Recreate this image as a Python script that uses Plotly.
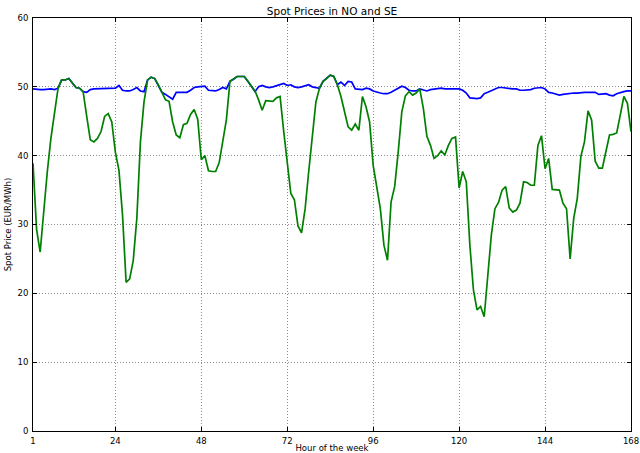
import plotly.graph_objects as go

# Hour of the week (1..168)
hours = list(range(1, 169))

# Hourly spot prices, EUR/MWh
price_no = [
    49.7, 49.6, 49.6, 49.6, 49.7, 49.7, 49.6, 49.8, 51.0, 51.0,
    51.2, 50.5, 49.9, 49.8, 49.3, 49.2, 49.6, 49.7, 49.7, 49.7,
    49.7, 49.8, 49.8, 49.8, 50.2, 49.5, 49.4, 49.4, 49.6, 49.9,
    49.4, 49.3, 51.0, 51.4, 51.2, 50.3, 49.2, 48.9, 48.6, 48.2,
    49.2, 49.2, 49.2, 49.2, 49.5, 49.9, 50.0, 50.0, 50.1, 49.5,
    49.4, 49.4, 49.6, 49.9, 49.7, 50.8, 51.1, 51.5, 51.5, 51.5,
    50.8, 50.0, 49.3, 50.0, 50.2, 50.0, 49.9, 50.0, 50.2, 50.4,
    50.5, 50.2, 50.3, 50.0, 49.9, 50.0, 50.1, 50.3, 50.0, 49.9,
    49.8, 50.8, 51.2, 51.7, 51.5, 50.3, 50.7, 50.2, 50.8, 50.7,
    49.7, 49.6, 49.6, 49.8, 49.7, 49.4, 49.2, 49.1, 49.0, 49.0,
    49.2, 49.5, 49.9, 50.1, 49.9, 49.5, 49.4, 49.4, 49.7, 49.5,
    49.4, 49.6, 49.7, 49.7, 49.8, 49.7, 49.7, 49.7, 49.8, 49.7,
    49.5, 49.1, 48.4, 48.3, 48.3, 48.4, 49.0, 49.2, 49.4, 49.7,
    49.9, 49.9, 49.8, 49.7, 49.7, 49.7, 49.5, 49.5, 49.5, 49.6,
    49.8, 49.9, 49.9, 49.7, 49.2, 49.1, 49.0, 48.8, 48.9, 49.0,
    49.0, 49.1, 49.1, 49.2, 49.2, 49.2, 49.2, 49.2, 48.9, 49.0,
    49.0, 48.8, 48.7, 49.0, 49.2, 49.3, 49.4, 49.4,
]

price_se = [
    38.9, 29.3, 26.0, 32.3, 37.7, 42.5, 46.4, 49.8, 51.0, 51.0,
    51.2, 50.5, 49.9, 49.8, 49.3, 45.7, 42.3, 42.0, 42.5, 43.5,
    45.7, 46.1, 44.9, 40.5, 37.9, 31.4, 21.6, 22.1, 24.8, 30.9,
    42.0, 47.8, 51.0, 51.4, 51.2, 50.3, 49.2, 48.1, 47.9, 44.9,
    43.0, 42.6, 44.5, 44.7, 46.0, 46.7, 45.3, 39.4, 40.0, 37.8,
    37.7, 37.7, 39.0, 42.0, 45.2, 50.8, 51.1, 51.5, 51.5, 51.5,
    50.8, 50.0, 49.4, 48.1, 46.6, 48.0, 48.0, 47.9, 48.4, 48.6,
    43.6, 39.4, 34.5, 33.6, 29.8, 28.8, 32.3, 37.7, 43.0, 47.8,
    49.8, 50.8, 51.2, 51.7, 51.5, 50.3, 48.6, 46.4, 44.2, 43.7,
    44.6, 43.7, 48.6, 47.1, 44.9, 38.6, 35.7, 32.3, 27.0, 24.8,
    33.3, 35.5, 40.6, 46.4, 48.7, 49.3, 48.8, 49.1, 49.7, 46.9,
    42.8, 41.5, 39.6, 40.0, 40.7, 40.1, 41.5, 42.5, 42.7, 35.3,
    37.7, 36.2, 27.0, 20.5, 17.6, 18.1, 16.6, 22.2, 28.5, 32.3,
    33.2, 35.0, 35.5, 32.4, 31.8, 32.1, 33.1, 36.2, 36.1, 35.7,
    35.7, 41.5, 42.9, 38.1, 39.6, 35.1, 35.1, 35.0, 33.1, 32.3,
    25.0, 30.9, 33.8, 39.9, 42.0, 46.5, 45.2, 39.2, 38.2, 38.2,
    40.6, 43.0, 43.1, 43.3, 45.9, 48.6, 47.6, 43.5,
]

x_ticks = [1, 24, 48, 72, 96, 120, 144, 168]
y_ticks = [0, 10, 20, 30, 40, 50, 60]

font_family = "DejaVu Sans"

fig = go.Figure()
fig.add_trace(go.Scatter(x=hours, y=price_no, mode="lines", name="NO",
                         line=dict(color="#0000ff", width=1.7)))
fig.add_trace(go.Scatter(x=hours, y=price_se, mode="lines", name="SE",
                         line=dict(color="#008000", width=1.7)))

axis_common = dict(
    showline=True, linecolor="#000000", linewidth=1, mirror="allticks",
    ticks="inside", ticklen=4, tickcolor="#000000", tickwidth=1,
    showgrid=True, gridcolor="rgba(0,0,0,0.45)", griddash="1px,2px",
    gridwidth=0.6, zeroline=False, automargin=False,
    tickfont=dict(family=font_family, size=8.5, color="#000000"),
)

fig.update_layout(
    width=640, height=453,
    margin=dict(l=33, r=9, t=18, b=22),
    paper_bgcolor="#ffffff", plot_bgcolor="#ffffff",
    showlegend=False,
    font=dict(family=font_family, color="#000000"),
    title=dict(text="Spot Prices in NO and SE", x=0.5, xref="paper",
               y=1 - 11 / 453, yref="container", yanchor="middle",
               xanchor="center", font=dict(size=10.5, family=font_family)),
    xaxis=dict(range=[1, 168], tickvals=x_ticks, ticklabelstandoff=2,
               title=dict(text="Hour of the week", standoff=1,
                          font=dict(size=8.5, family=font_family)),
               **axis_common),
    yaxis=dict(range=[0, 60], tickvals=y_ticks, ticklabelstandoff=2,
               title=dict(text="Spot Price (EUR/MWh)", standoff=4,
                          font=dict(size=8.5, family=font_family)),
               **axis_common),
)

fig.write_html("out.html")
